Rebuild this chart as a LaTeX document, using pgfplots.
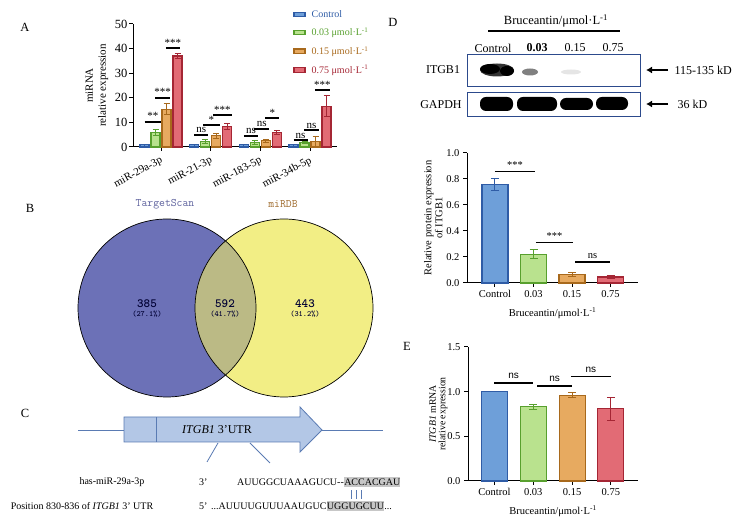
\documentclass[border=0pt]{standalone}
\usepackage{fontspec}
\setmainfont{Liberation Serif}
\newfontfamily\sansf{Liberation Sans}
\usepackage{pgfplots}
\pgfplotsset{compat=1.18}
\usetikzlibrary{arrows.meta}

\definecolor{cbF}{HTML}{6E9FD9}
\definecolor{cbE}{HTML}{2F5CA6}
\definecolor{cgF}{HTML}{B9E28E}
\definecolor{cgE}{HTML}{58A02E}
\definecolor{coF}{HTML}{E7AA60}
\definecolor{coE}{HTML}{A8691C}
\definecolor{crF}{HTML}{E26B75}
\definecolor{crE}{HTML}{A52634}
\definecolor{vL}{HTML}{6C71B7}
\definecolor{vR}{HTML}{F2EE85}
\definecolor{vI}{HTML}{BBBA85}
\definecolor{utrF}{HTML}{B3C7E6}
\definecolor{utrE}{HTML}{5A7BB3}
\definecolor{blotE}{HTML}{2C4A8C}

\newcommand\fs[1]{\fontsize{#1}{#1}\selectfont}

\tikzset{sig/.style={line width=1.8pt}}
\pgfplotsset{
  panel/.style={
    scale only axis, anchor=south west,
    axis x line*=bottom, axis y line*=left,
    axis line style={line width=1pt},
    tick style={black, line width=1pt},
    tick align=outside, major tick length=4pt,
    /pgf/number format/assume math mode=true,
    tick label style={font=\fontsize{10.5}{12}\selectfont},
    label style={font=\fontsize{10.5}{11}\selectfont},
    xlabel style={yshift=-3pt},
    ymin=0, clip=false, ybar,
  },
  bar/.style 2 args={fill=#1F, draw=#1E, line width=1.1pt,
    error bars/y dir=both, error bars/y explicit,
    error bars/error bar style={#1E, line width=1pt},
    error bars/error mark options={#1E, line width=1pt, mark size=#2, rotate=90},
    legend image code/.code={\draw[fill=#1F, draw=#1E, line width=1.3pt] (0pt,-2.2pt) rectangle (11pt,2.2pt);}},
}

\begin{document}
\begin{tikzpicture}
\path[use as bounding box] (0pt,0pt) rectangle (753pt,527pt);

% ---------- A: miRNA expression
\begin{axis}[panel, at={(133pt,380pt)}, width=204pt, height=123pt,
  xmin=-0.564, xmax=3.543, ymax=50, ytick={0,10,...,50},
  xtick={0,1,2,3}, xticklabels={miR-29a-3p,miR-21-3p,miR-183-5p,miR-34b-5p},
  xticklabel style={rotate=28, anchor=north east, font=\fontsize{11}{12}\selectfont},
  yticklabel style={font=\fontsize{12.5}{13}\selectfont, xshift=2pt},
  ylabel={miRNA\\relative expression}, ylabel style={align=center, font=\fontsize{11}{13}\selectfont},
  bar width=9pt,
  legend style={at={(0.785,1.13)}, anchor=north west, draw=none, fill=none,
    inner sep=0pt, row sep=5pt, font=\fontsize{10}{11}\selectfont,
    /tikz/every odd column/.append style={column sep=4pt}},
  legend cell align=left,
]
\addplot[bar={cb}{3pt}, bar shift=-16.5pt] coordinates {(0,1)+-(0,0.1) (1,1)+-(0,0.1) (2,1)+-(0,0.1) (3,1)+-(0,0.1)};
\addlegendentry{\textcolor{cbE}{Control}}
\addplot[bar={cg}{3pt}, bar shift=-5.5pt] coordinates {(0,6.0)+-(0,1.2) (1,2.2)+-(0,0.7) (2,2.0)+-(0,0.8) (3,1.8)+-(0,0.3)};
\addlegendentry{\textcolor{cgE}{0.03 μmol·L\textsuperscript{-1}}}
\addplot[bar={co}{3pt}, bar shift=5.5pt] coordinates {(0,15.4)+-(0,2.3) (1,4.5)+-(0,0.9) (2,2.5)+-(0,0.5) (3,2.3)+-(0,2.0)};
\addlegendentry{\textcolor{coE}{0.15 μmol·L\textsuperscript{-1}}}
\addplot[bar={cr}{3pt}, bar shift=16.5pt] coordinates {(0,37.0)+-(0,1.1) (1,8.3)+-(0,1.2) (2,5.8)+-(0,0.8) (3,16.5)+-(0,4.3)};
\addlegendentry{\textcolor{crE}{0.75 μmol·L\textsuperscript{-1}}}
\begin{scope}[every node/.style={font=\fontsize{11}{11}\selectfont, inner sep=1pt}]
\draw[sig] (axis cs:-0.33,10.3) -- node[above]{**} (axis cs:0.0,10.3);
\draw[sig] (axis cs:-0.12,20.0) -- node[above]{***} (axis cs:0.18,20.0);
\draw[sig] (axis cs:0.10,40.1) -- node[above]{***} (axis cs:0.38,40.1);
\draw[sig] (axis cs:0.67,4.9) -- node[above]{ns} (axis cs:0.95,4.9);
\draw[sig] (axis cs:0.85,8.9) -- node[above]{*} (axis cs:1.18,8.9);
\draw[sig] (axis cs:1.05,13.0) -- node[above]{***} (axis cs:1.42,13.0);
\draw[sig] (axis cs:1.67,4.5) -- node[above]{ns} (axis cs:1.95,4.5);
\draw[sig] (axis cs:1.88,7.4) -- node[above]{ns} (axis cs:2.18,7.4);
\draw[sig] (axis cs:2.10,11.7) -- node[above]{*} (axis cs:2.38,11.7);
\draw[sig] (axis cs:2.67,2.8) -- node[above]{ns} (axis cs:2.95,2.8);
\draw[sig] (axis cs:2.88,6.9) -- node[above]{ns} (axis cs:3.18,6.9);
\draw[sig] (axis cs:3.10,23.2) -- node[above]{***} (axis cs:3.40,23.2);
\end{scope}
\end{axis}

% ---------- D: protein quantification
\begin{axis}[panel, at={(467pt,244pt)}, width=171pt, height=130pt,
  xmin=-0.727, xmax=3.714, ymax=1, ytick={0,0.2,...,1},
  yticklabel style={/pgf/number format/fixed, /pgf/number format/fixed zerofill, /pgf/number format/precision=1},
  xtick={0,1,2,3}, xticklabels={Control,0.03,0.15,0.75},
  xlabel={Bruceantin/μmol·L\textsuperscript{-1}},
  ylabel={Relative protein expression\\of ITGB1}, ylabel style={align=center}, ylabel shift=-3pt,
  bar width=26pt,
]
\addplot[bar={cb}{4pt}, bar shift=0pt] coordinates {(0,0.76)+-(0,0.045)};
\addplot[bar={cg}{4pt}, bar shift=0pt] coordinates {(1,0.222)+-(0,0.037)};
\addplot[bar={co}{4pt}, bar shift=0pt] coordinates {(2,0.067)+-(0,0.017)};
\addplot[bar={cr}{4pt}, bar shift=0pt] coordinates {(3,0.046)+-(0,0.011)};
\begin{scope}[every node/.style={font=\fontsize{10.5}{10}\selectfont, inner sep=2pt}]
\draw[sig] (axis cs:0,0.858) -- node[above]{***} (axis cs:1.04,0.858);
\draw[sig] (axis cs:1.06,0.312) -- node[above]{***} (axis cs:2.03,0.312);
\draw[sig] (axis cs:2.08,0.162) -- node[above]{ns} (axis cs:2.99,0.162);
\end{scope}
\end{axis}

% ---------- E: mRNA expression
\begin{axis}[panel, at={(468pt,46pt)}, width=170pt, height=134pt,
  xmin=-0.683, xmax=3.70, ymax=1.5, ytick={0,0.5,1,1.5},
  yticklabel style={/pgf/number format/fixed, /pgf/number format/fixed zerofill, /pgf/number format/precision=1},
  xtick={0,1,2,3}, xticklabels={Control,0.03,0.15,0.75},
  xlabel={Bruceantin/μmol·L\textsuperscript{-1}},
  ylabel={\textit{ITGB1} mRNA\\relative expression}, ylabel style={align=center, font=\fontsize{9.8}{9.6}\selectfont}, ylabel shift=-7pt,
  bar width=26pt,
]
\addplot[bar={cb}{4pt}, bar shift=0pt] coordinates {(0,1.0)+-(0,0)};
\addplot[bar={cg}{4pt}, bar shift=0pt] coordinates {(1,0.83)+-(0,0.03)};
\addplot[bar={co}{4pt}, bar shift=0pt] coordinates {(2,0.96)+-(0,0.03)};
\addplot[bar={cr}{4pt}, bar shift=0pt] coordinates {(3,0.81)+-(0,0.13)};
\begin{scope}[every node/.style={font=\sansf\fontsize{10}{10}\selectfont, inner sep=3pt}]
\draw[sig] (axis cs:0,1.098) -- node[above]{ns} (axis cs:0.99,1.098);
\draw[sig] (axis cs:1.1,1.064) -- node[above]{ns} (axis cs:2.0,1.064);
\draw[sig] (axis cs:1.97,1.169) -- node[above]{ns} (axis cs:3.0,1.169);
\end{scope}
\end{axis}

\begin{scope}[x=1pt,y=1pt]
% panel letters
\begin{scope}[every node/.style={font=\fs{12.5}}]
\node at (25,500) {A};
\node at (30,319) {B};
\node at (25,114) {C};
\node at (393,505) {D};
\node at (407,181) {E};
\end{scope}

% ---------- B: Venn
\fill[vL] (167,219) circle (89);
\fill[vR] (284,219) circle (89);
\begin{scope}
\clip (167,219) circle (89);
\fill[vI] (284,219) circle (89);
\end{scope}
\draw[line width=0.7pt] (167,219) circle (89);
\draw[line width=0.7pt] (284,219) circle (89);
\node[font=\ttfamily\fs{11.4}, text=vL!85!black] at (165,323) {TargetScan};
\node[font=\ttfamily\fs{11.4}, text=coE!80!gray] at (283,323) {miRDB};
\begin{scope}[every node/.style={text=black!80!blue}]
\node[font=\ttfamily\bfseries\fs{12.5}] at (147,223) {385};
\node[font=\ttfamily\bfseries\fs{8}] at (147,213) {(27.1\%)};
\node[font=\ttfamily\bfseries\fs{12.5}] at (225,223) {592};
\node[font=\ttfamily\bfseries\fs{8}] at (225,213) {(41.7\%)};
\node[font=\ttfamily\bfseries\fs{12.5}] at (305,223) {443};
\node[font=\ttfamily\bfseries\fs{8}] at (305,213) {(31.2\%)};
\end{scope}

% ---------- C: 3'UTR
\draw[utrE, line width=0.8pt] (78,97) -- (383,97);
\filldraw[fill=utrF, draw=utrE, line width=0.8pt] (124,110) -- (300,110) -- (300,120) -- (322,97) -- (300,75) -- (300,85) -- (124,85) -- cycle;
\draw[utrE, line width=0.8pt] (156,85) -- (156,110);
\node[font=\fs{12}] at (217,97) {\textit{ITGB1} 3'UTR};
\draw[utrE, line width=0.8pt] (218,84) -- (207,65);
\draw[utrE, line width=0.8pt] (250,84) -- (270,64);
\begin{scope}[every node/.style={font=\fs{10}}]
\node at (112,45) {has-miR-29a-3p};
\node at (82,21) {Position 830-836 of \textit{ITGB1} 3' UTR};
\node[anchor=west, inner sep=0pt] at (199,45) {3'};
\node[anchor=west, inner sep=0pt] at (199,21) {5'};
\node[anchor=west, inner sep=0pt] (s1) at (237,45) {AUUGGCUAAAGUCU-{}-};
\node[anchor=base west, fill=black!22, inner xsep=0pt, inner ysep=1.5pt] at (s1.base east) {ACCACGAU};
\node[anchor=west, inner sep=0pt] (s2) at (211,21) {...AUUUUGUUUAAUGUC};
\node[anchor=base west, fill=black!22, inner xsep=0pt, inner ysep=1.5pt] (s3) at (s2.base east) {UGGUGCUU};
\node[anchor=base west, inner sep=0pt] at (s3.base east) {...};
\end{scope}
\draw[utrE, line width=0.8pt] (351,28) -- (351,37) (356,28) -- (356,37) (361,28) -- (361,37);

% ---------- D: western blot
\node[font=\fs{12.5}] at (556,506) {Bruceantin/μmol·L\textsuperscript{-1}};
\draw[line width=1.6pt] (488,496) -- (620,496);
\begin{scope}[every node/.style={font=\fs{12}}]
\node at (493,479) {Control};
\node[font=\fs{12}\bfseries] at (537,479) {0.03};
\node at (575,479) {0.15};
\node at (613,479) {0.75};
\node at (443,457) {ITGB1};
\node at (441,422) {GAPDH};
\node[anchor=west] at (671,457) {115-135 kD};
\node[anchor=west] at (674,423) {36 kD};
\end{scope}
\fill[black!80] (497,457) ellipse (17 and 6.5);
\fill[black] (490,458) ellipse (10 and 5);
\fill[black] (507,456) ellipse (7 and 5);
\fill[black!50] (530,455) ellipse (8 and 3.5);
\fill[black!10] (571,455) ellipse (10 and 2.5);
\fill[black, rounded corners=6pt] (480,416) rectangle (513,430);
\fill[black, rounded corners=6pt] (517,416) rectangle (557,430);
\fill[black, rounded corners=6pt] (560,417) rectangle (593,429);
\fill[black, rounded corners=6pt] (596,417) rectangle (628,430);
\draw[blotE, line width=1pt] (467,440) rectangle (640,472);
\draw[blotE, line width=1pt] (467,410) rectangle (640,434);
\draw[line width=1.6pt, -{Latex[length=6pt,width=7pt]}] (668,457) -- (646,457);
\draw[line width=1.6pt, -{Latex[length=6pt,width=7pt]}] (668,423) -- (646,423);
\end{scope}
\end{tikzpicture}
\end{document}
